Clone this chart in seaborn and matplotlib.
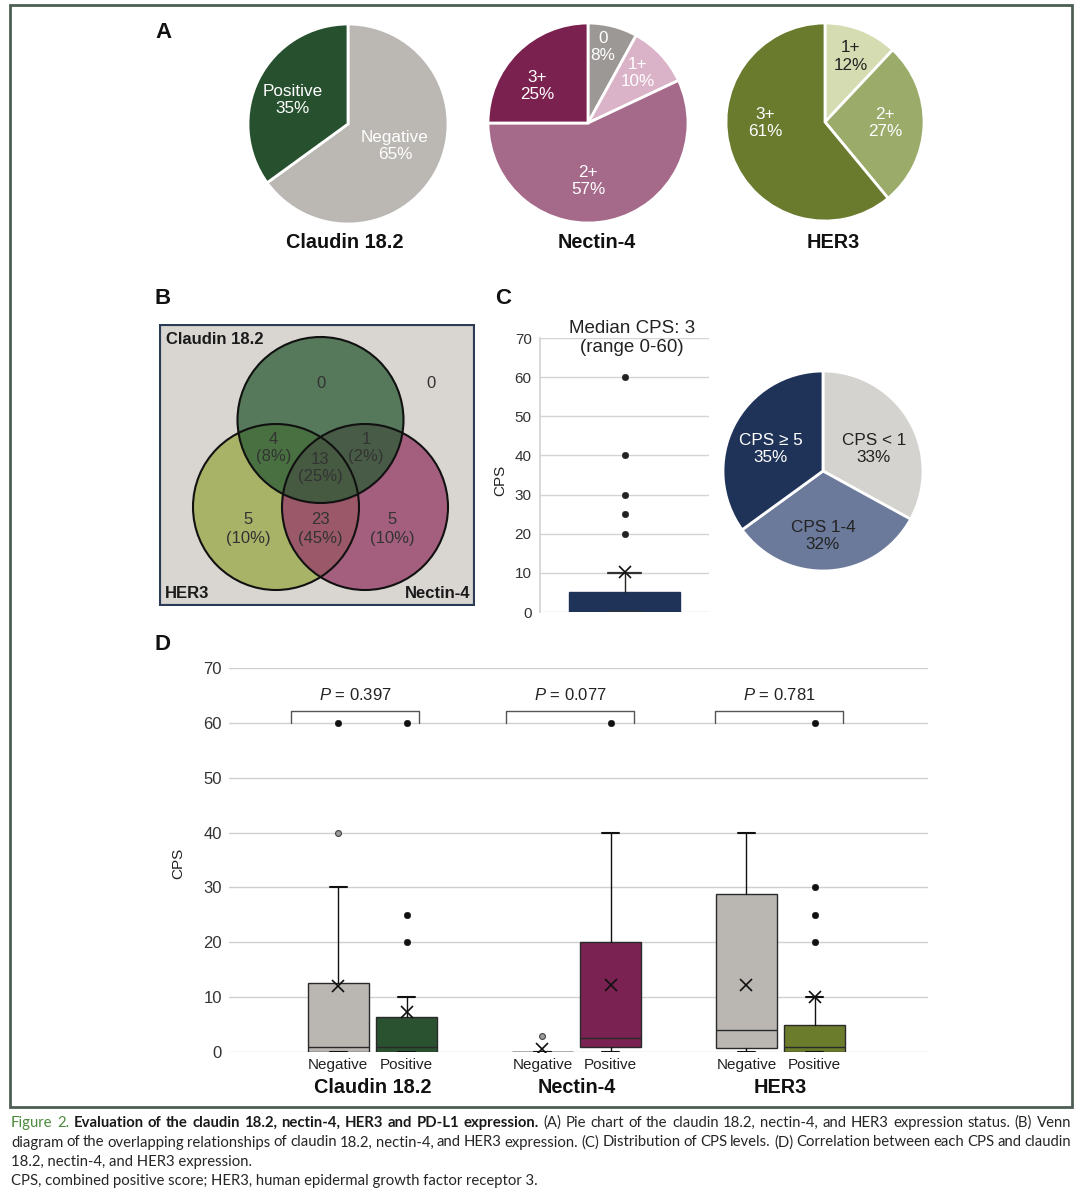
import numpy as np
import pandas as pd
import matplotlib
matplotlib.use("Agg")
import matplotlib.pyplot as plt
import matplotlib.transforms as mtransforms
from matplotlib.patches import Circle, Rectangle
from matplotlib import font_manager
import seaborn as sns

# ---------------- data ----------------
claudin_cats = ["Negative", "Positive"]
claudin_pct = [65, 35]
nectin_cats = ["0", "1+", "2+", "3+"]
nectin_pct = [8, 10, 57, 25]
her3_cats = ["1+", "2+", "3+"]
her3_pct = [12, 27, 61]

venn_sets = ["Claudin 18.2", "HER3", "Nectin-4"]
# regions: claudin only, none, claudin+her3, claudin+nectin, all, her3 only, her3+nectin, nectin only
venn_counts = [0, 0, 4, 1, 13, 5, 23, 5]
venn_pct = [None, None, 8, 2, 25, 10, 45, 10]

cps_cats = ["CPS < 1", "CPS 1-4", "CPS \u2265 5"]
cps_pct = [33, 32, 35]
cps_q1, cps_med, cps_q3 = 0, 3, 5
cps_whislo, cps_whishi = 0, 10
cps_mean = 10.3
cps_fliers = [20, 25, 30, 40, 60]

groups = ["Claudin 18.2", "Nectin-4", "HER3"]
status = ["Negative", "Positive"]
d_q1 = [0, 0, 0, 1, 0.8, 0]
d_med = [1, 1, 0, 2.5, 4, 1]
d_q3 = [12.6, 6.3, 0, 20, 28.8, 5]
d_whislo = [0, 0, 0, 0, 0, 0]
d_whishi = [30, 10, 0, 40, 40, 10]
d_mean = [12, 7.3, 0.5, 12.3, 12.3, 10]
d_fliers = [[60], [20, 25, 60], [], [60], [], [20, 25, 30, 60]]
d_fliers_light = [[40], [], [3], [], [], []]
p_values = ["0.397", "0.077", "0.781"]

# ---------------- style ----------------
sns.set_theme(style="white")
plt.rcParams["font.family"] = ["Liberation Sans", "DejaVu Sans"]
plt.rcParams["mathtext.fontset"] = "custom"
plt.rcParams["mathtext.it"] = "Liberation Sans:italic"
plt.rcParams["mathtext.rm"] = "Liberation Sans"

_names = {f.name for f in font_manager.fontManager.ttflist}
CAP_FONT = "Liberation Sans"
for cand in ["Liberation Sans Narrow", "Lato"]:
    if cand in _names:
        CAP_FONT = cand
        break

W, H = 1080, 1197
fig = plt.figure(figsize=(W / 100, H / 100), dpi=100)
fig.patch.set_facecolor("white")


def px_axes(x0, y0, x1, y1):
    return fig.add_axes([x0 / W, 1 - y1 / H, (x1 - x0) / W, (y1 - y0) / H])


def pie_panel(cx, cy, r, values, cats, colors, txt_colors, lab_xy):
    ax = px_axes(cx - r, cy - r, cx + r, cy + r)
    ax.pie(values, colors=colors, startangle=90, counterclock=False, radius=1,
           wedgeprops=dict(edgecolor="white", linewidth=2))
    for cat, v, tc, (lx, ly) in zip(cats, values, txt_colors, lab_xy):
        ax.text(lx, ly, f"{cat}\n{v}%", ha="center", va="center", color=tc,
                fontsize=12.3, linespacing=1.2)
    ax.set_xlim(-1.01, 1.01)
    ax.set_ylim(-1.01, 1.01)
    ax.set_aspect("equal")
    ax.axis("off")
    return ax


# outer frame
fig.add_artist(Rectangle((10 / W, 1 - 1107 / H), 1062 / W, 1102 / H, transform=fig.transFigure,
                         fill=False, edgecolor="#4d5f55", linewidth=2))

for letter, (lx, ly) in zip("ABCD", [(163, 32), (163, 298), (503, 298), (163, 644)]):
    fig.text(lx / W, 1 - ly / H, letter, ha="center", va="center", fontsize=16, weight="bold",
             color="#111111")

# ---------------- A: pies ----------------
pie_panel(348, 124, 101, claudin_pct, claudin_cats, ["#bbb8b4", "#27502f"], ["white", "white"],
          [(0.47, -0.22), (-0.55, 0.24)])
pie_panel(588, 123, 101, nectin_pct, nectin_cats, ["#9c9896", "#dbb3c8", "#a5698a", "#7b2150"],
          ["white"] * 4, [(0.15, 0.76), (0.5, 0.5), (0.0, -0.58), (-0.51, 0.37)])
pie_panel(825, 122, 100, her3_pct, her3_cats, ["#d5dcb1", "#9bab6a", "#6a7b2e"],
          ["#222222", "white", "white"], [(0.26, 0.66), (0.61, -0.01), (-0.6, -0.01)])
for name, x in zip(groups, [345, 597, 833]):
    fig.text(x / W, 1 - 242 / H, name, ha="center", va="center", fontsize=14.3, weight="bold",
             color="#111111")

# ---------------- B: venn ----------------
ax_v = px_axes(159, 324, 475, 606)
ax_v.set_xlim(0, 316)
ax_v.set_ylim(0, 282)
ax_v.axis("off")
ax_v.add_patch(Rectangle((0, 0), 316, 282, facecolor="#d9d6d1", edgecolor="#2b3a55", linewidth=3))
venn_centers = [(161.5, 186), (117, 99), (206, 99)]
venn_colors = ["#2a5a34", "#9cab4e", "#97426a"]
venn_alpha = [0.75, 0.8, 0.8]
for i in [1, 2, 0]:
    ax_v.add_patch(Circle(venn_centers[i], 83, facecolor=venn_colors[i], alpha=venn_alpha[i],
                          edgecolor="none"))
for c in venn_centers:
    ax_v.add_patch(Circle(c, 83, facecolor="none", edgecolor="#111111", linewidth=1.5))
region_xy = [(162, 223), (272, 223), (114.5, 158), (207, 158), (161.5, 138), (89.5, 77),
             (161.5, 77), (233.5, 77)]
for n, p, (x, y) in zip(venn_counts, venn_pct, region_xy):
    s = f"{n}" if p is None else f"{n}\n({p}%)"
    ax_v.text(x, y, s, ha="center", va="center", fontsize=12, color="#333333", linespacing=1.25)
ax_v.text(7, 266, venn_sets[0], ha="left", va="center", fontsize=12, weight="bold", color="#1a1a1a")
ax_v.text(6, 12, venn_sets[1], ha="left", va="center", fontsize=12, weight="bold", color="#1a1a1a")
ax_v.text(311, 12, venn_sets[2], ha="right", va="center", fontsize=12, weight="bold", color="#1a1a1a")

# ---------------- C: box + pie ----------------
ax_c = px_axes(540, 338, 709, 612)
cps_stats = [dict(q1=cps_q1, med=cps_med, q3=cps_q3, whislo=cps_whislo, whishi=cps_whishi,
                  mean=cps_mean, fliers=[])]
ax_c.bxp(cps_stats, positions=[0], widths=0.66, capwidths=0.2, patch_artist=True,
         showfliers=False, manage_ticks=False,
         boxprops=dict(facecolor="#1f3359", edgecolor="#1f3359", linewidth=1),
         medianprops=dict(color="#1f3359", linewidth=1),
         whiskerprops=dict(color="#222222", linewidth=1),
         capprops=dict(color="#333333", linewidth=1.6))
ax_c.plot([0], [cps_mean], ls="none", marker="x", ms=8, mew=1.2, color="#111111", zorder=6)
sns.scatterplot(x=[0] * len(cps_fliers), y=cps_fliers, color="#222222", s=22, edgecolor="#222222",
                ax=ax_c, zorder=5, legend=False, clip_on=False)
ax_c.set_xlim(-0.5, 0.5)
ax_c.set_ylim(0, 70)
ax_c.set_yticks(range(0, 71, 10))
ax_c.set_xticks([])
ax_c.set_xlabel("")
ax_c.set_ylabel("")
ax_c.yaxis.grid(True, color="#d4d4d4", linewidth=1)
ax_c.set_axisbelow(True)
for sp in ["top", "right", "bottom"]:
    ax_c.spines[sp].set_visible(False)
ax_c.spines["left"].set_color("#d4d4d4")
ax_c.tick_params(axis="y", length=0, pad=6, labelsize=11, labelcolor="#333333")
ax_c.set_facecolor("none")
ax_c.text(-0.237, 0.48, "CPS", transform=ax_c.transAxes, rotation=90, ha="center", va="center",
          fontsize=11, color="#222222")
ax_c.text(0.544, 1.0, "Median CPS: 3\n(range 0-60)", transform=ax_c.transAxes, ha="center",
          va="center", fontsize=13.5, color="#222222", linespacing=1.2)

pie_panel(823, 471, 101, cps_pct, cps_cats, ["#d5d3cf", "#6b7a9b", "#1f3359"],
          ["#222222", "#222222", "white"], [(0.51, 0.22), (0.0, -0.65), (-0.52, 0.22)])

# ---------------- D: grouped boxes ----------------
ax_d = px_axes(229, 668, 928, 1052)
offsets = (-0.167, 0.167)
pos = [g + o for g in range(len(groups)) for o in offsets]
d_stats = [dict(q1=a, med=b, q3=c, whislo=d, whishi=e, mean=m, fliers=[])
           for a, b, c, d, e, m in zip(d_q1, d_med, d_q3, d_whislo, d_whishi, d_mean)]
box_colors = ["#bab7b3", "#2a5231", "#bab7b3", "#7a2251", "#bab7b3", "#6b7c2c"]
bd = ax_d.bxp(d_stats, positions=pos, widths=0.30, capwidths=0.085, patch_artist=True,
              showfliers=False, manage_ticks=False,
              boxprops=dict(edgecolor="#2a2a2a", linewidth=1),
              medianprops=dict(color="#2a2a2a", linewidth=1),
              whiskerprops=dict(color="#111111", linewidth=1),
              capprops=dict(color="#111111", linewidth=1.5))
for patch, col in zip(bd["boxes"], box_colors):
    patch.set_facecolor(col)
ax_d.plot(pos, d_mean, ls="none", marker="x", ms=8, mew=1.2, color="#111111", zorder=6)

fl = pd.DataFrame([(p, v) for p, f in zip(pos, d_fliers) for v in f], columns=["x", "y"])
fl_light = pd.DataFrame([(p, v) for p, f in zip(pos, d_fliers_light) for v in f], columns=["x", "y"])
sns.scatterplot(data=fl, x="x", y="y", color="#111111", s=22, edgecolor="#111111", ax=ax_d,
                zorder=5, legend=False, clip_on=False)
sns.scatterplot(data=fl_light, x="x", y="y", color="#9a9a9a", s=18, edgecolor="#444444",
                linewidth=0.8, ax=ax_d, zorder=5, legend=False, clip_on=False)

# p-value brackets
bracket_off = [-0.084, -0.031, -0.006]
for g, (pv, bo) in enumerate(zip(p_values, bracket_off)):
    x0, x1 = g + bo - 0.313, g + bo + 0.313
    ax_d.plot([x0, x0, x1, x1], [60, 62.2, 62.2, 60], color="#555555", linewidth=1, zorder=4)
    ax_d.text(g + bo, 65, r"$\mathit{P}$ = " + pv, ha="center", va="center", fontsize=12,
              color="#222222")

ax_d.set_xlim(-0.703, 2.723)
ax_d.set_ylim(0, 70)
ax_d.set_yticks(range(0, 71, 10))
ax_d.set_xticks(pos)
ax_d.set_xticklabels(status * len(groups))
ax_d.set_xlabel("")
ax_d.set_ylabel("")
ax_d.yaxis.grid(True, color="#d0d0d0", linewidth=1)
ax_d.set_axisbelow(True)
sns.despine(ax=ax_d, left=True, bottom=True)
ax_d.tick_params(axis="y", length=0, pad=5, labelsize=12, labelcolor="#333333")
ax_d.tick_params(axis="x", length=0, pad=4, labelsize=11, labelcolor="#222222")
ax_d.set_facecolor("none")
ax_d.text(-0.073, 0.49, "CPS", transform=ax_d.transAxes, rotation=90, ha="center", va="center",
          fontsize=11, color="#222222")
trans = mtransforms.blended_transform_factory(ax_d.transData, ax_d.transAxes)
for g, name in enumerate(groups):
    ax_d.text(g, -0.092, name, transform=trans, ha="center", va="center", fontsize=14.3,
              weight="bold", color="#111111")

# ---------------- caption ----------------
cap_lines = [
    [("Figure 2. ", dict(color="#4c8a3c")),
     ("Evaluation of the claudin 18.2, nectin-4, HER3 and PD-L1 expression.",
      dict(weight="bold", color="#1a1a1a")),
     ("(A) Pie chart of the claudin 18.2, nectin-4, and HER3 expression status. (B) Venn", {})],
    [("diagram of the overlapping relationships of claudin 18.2, nectin-4, and HER3 expression. "
      "(C) Distribution of CPS levels. (D) Correlation between each CPS and claudin", {})],
    [("18.2, nectin-4, and HER3 expression.", {})],
    [("CPS, combined positive score; HER3, human epidermal growth factor receptor 3.", {})],
]
justify = [True, True, False, False]
baselines = [1127, 1146.5, 1166, 1185.5]
cap_x0, cap_x1 = 11, 1071

fig.canvas.draw()
rend = fig.canvas.get_renderer()


def word_width(w, size, style):
    t = fig.text(0, 0, w, fontsize=size, family=CAP_FONT, **style)
    wd = t.get_window_extent(rend).width
    t.remove()
    return wd


def line_words(parts):
    out = []
    for txt, st in parts:
        style = dict(color="#262626")
        style.update(st)
        out += [(w, style) for w in txt.split()]
    return out


base = 10.0
words0 = line_words(cap_lines[0])
sp0 = word_width("a a", base, {}) - word_width("aa", base, {})
nat = sum(word_width(w, base, s) for w, s in words0) + sp0 * (len(words0) - 1)
cap_size = base * (cap_x1 - cap_x0) / nat * 0.985

for parts, just, yb in zip(cap_lines, justify, baselines):
    if just:
        words = line_words(parts)
        widths = [word_width(w, cap_size, s) for w, s in words]
        gap = (cap_x1 - cap_x0 - sum(widths)) / (len(words) - 1)
        x = cap_x0
        for (w, s), wd in zip(words, widths):
            fig.text(x / W, 1 - yb / H, w, fontsize=cap_size, family=CAP_FONT, ha="left",
                     va="baseline", **s)
            x += wd + gap
    else:
        txt = " ".join(p[0] for p in parts)
        fig.text(cap_x0 / W, 1 - yb / H, txt, fontsize=cap_size, family=CAP_FONT, ha="left",
                 va="baseline", color="#262626")

fig.savefig("out.png", dpi=100)
